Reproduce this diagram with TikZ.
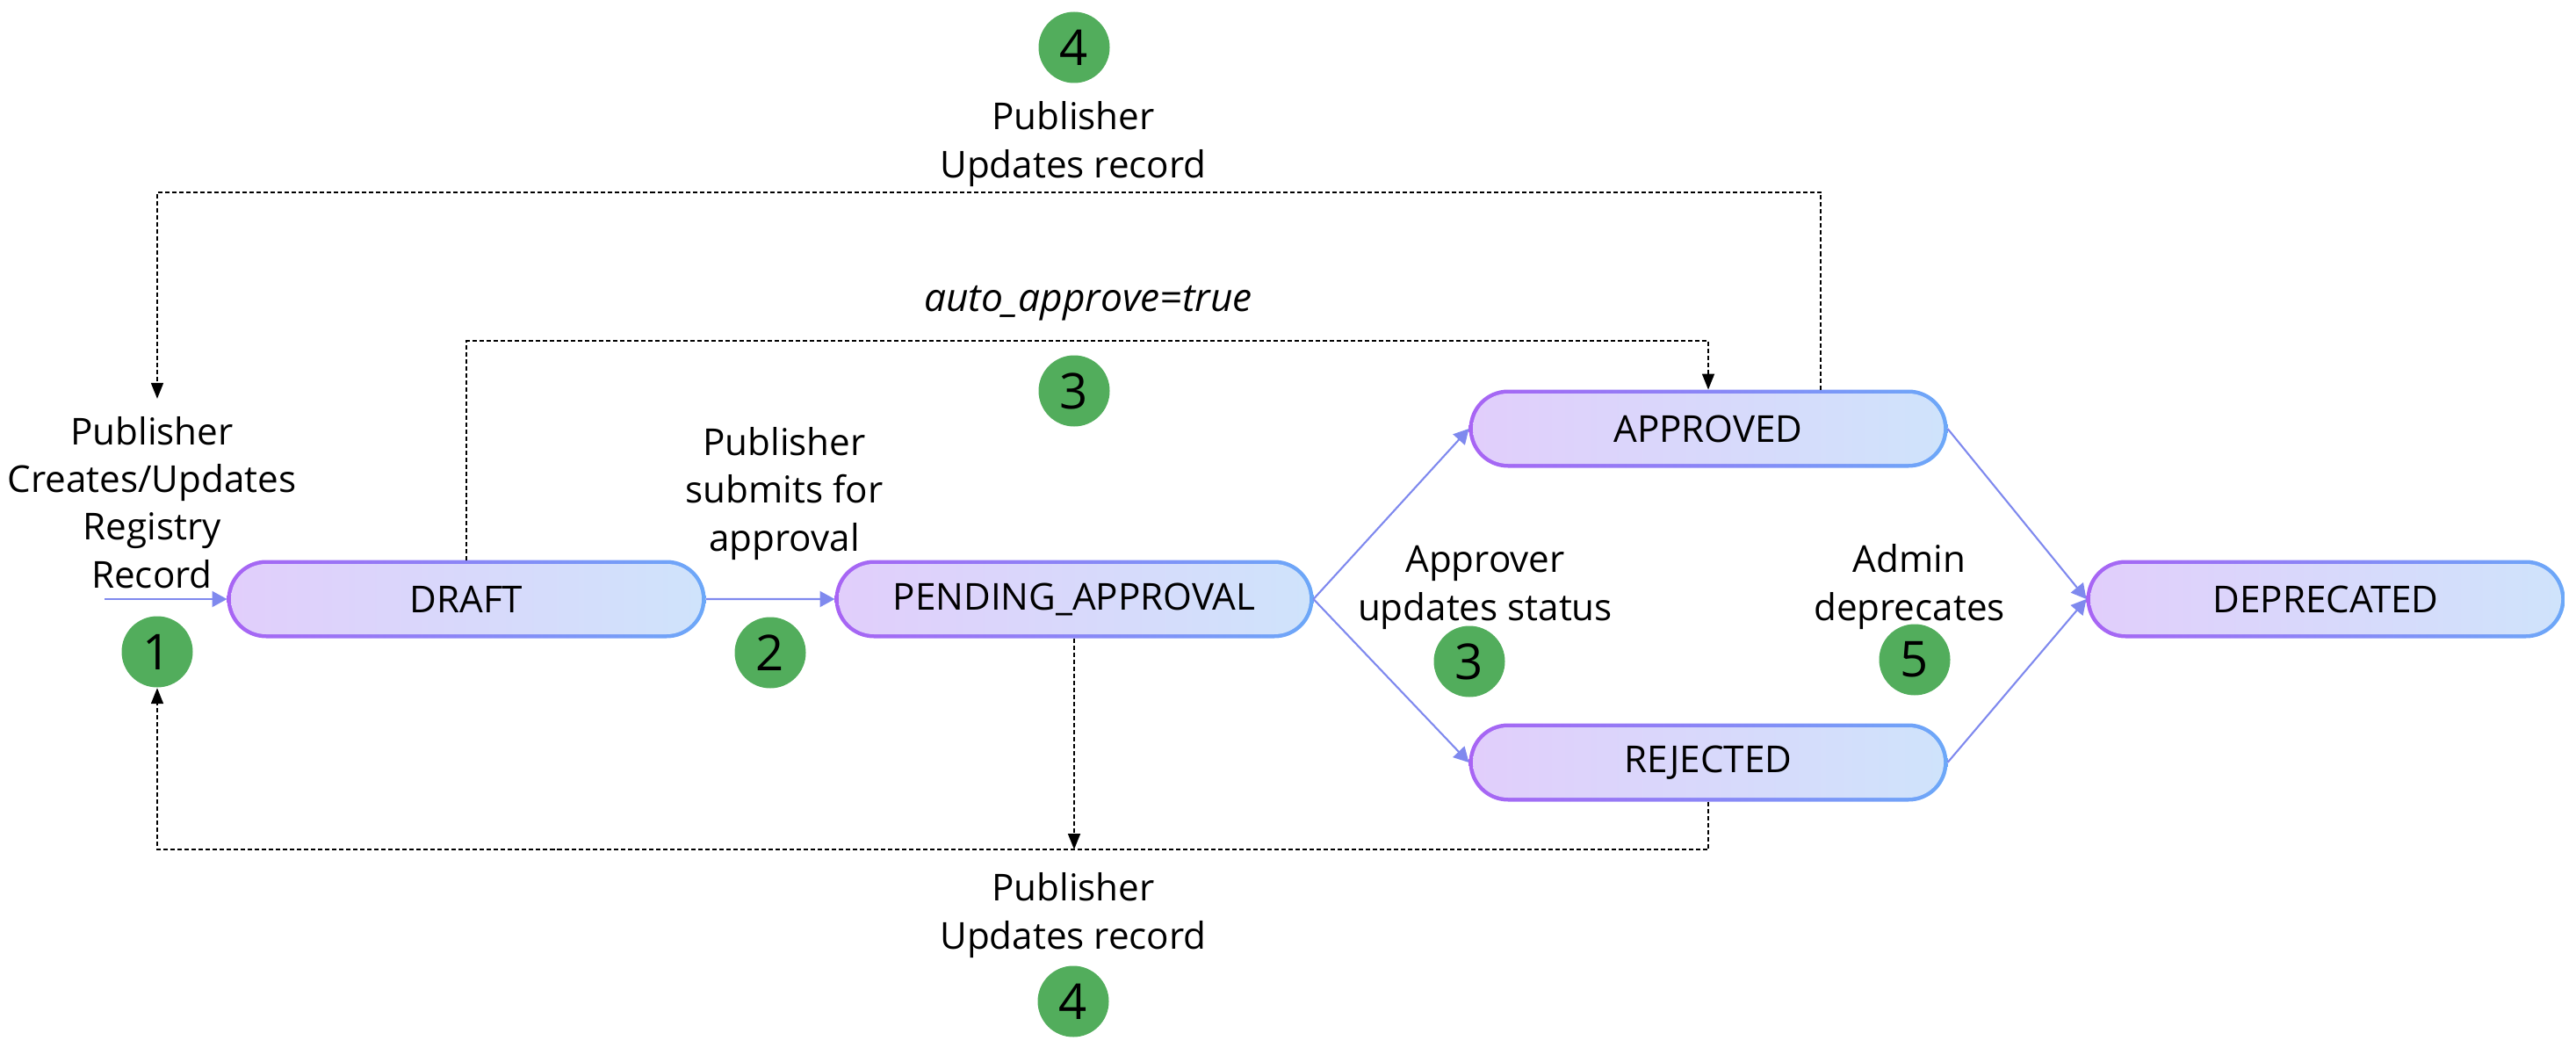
\documentclass[tikz,border=0pt]{standalone}
\usepackage{fontspec}
\setmainfont{Open Sans}
\usetikzlibrary{arrows.meta,shapes.misc}
\definecolor{edgeL}{HTML}{A864F4}
\definecolor{edgeR}{HTML}{6CA8F8}
\definecolor{fillL}{HTML}{E1CEFB}
\definecolor{fillR}{HTML}{CFE3FB}
\definecolor{flowc}{HTML}{7F89EE}
\definecolor{badgeg}{HTML}{52AD5C}
\begin{document}
\begin{tikzpicture}[
  % the record states: gradient rim, lighter gradient inside
  state/.style={rounded rectangle, minimum width=5.45cm, minimum height=0.89cm,
    inner sep=0pt, outer sep=0pt, font=\fontsize{12}{14}\selectfont,
    path picture={
      \shade[left color=edgeL, right color=edgeR]
        (path picture bounding box.south west) rectangle (path picture bounding box.north east);
      \shade[left color=fillL, right color=fillR, rounded corners=0.40cm]
        ([shift={(0.045,0.045)}]path picture bounding box.south west) rectangle
        ([shift={(-0.045,-0.045)}]path picture bounding box.north east);
    }},
  % numbered steps
  badge/.style={circle, fill=badgeg, minimum size=0.81cm, inner sep=0pt,
    font=\fontsize{16}{16}\selectfont},
  note/.style={align=center, inner sep=0pt, font=\fontsize{12}{15.4}\selectfont},
  flow/.style={draw=flowc, line width=0.6pt, -{Triangle[length=0.17cm,width=0.18cm]}},
  back/.style={line width=0.5pt, line cap=butt, dash pattern=on 0.05cm off 0.03cm,
    -{Triangle[length=0.18cm,width=0.14cm]}},
]
  \useasboundingbox (0,0) rectangle (29.33,-12.01);

  % the states
  \node[state] (draft)      at (5.31,-6.82)  {DRAFT};
  \node[state] (pending)    at (12.23,-6.82) {PENDING\_APPROVAL};
  \node[state] (approved)   at (19.45,-4.88) {APPROVED};
  \node[state] (rejected)   at (19.45,-8.68) {REJECTED};
  \node[state] (deprecated) at (26.48,-6.82) {DEPRECATED};

  % what happens on each transition
  \node[note] (create)  at (1.73,-5.72)   {Publisher\\Creates/Updates\\Registry\\Record};
  \node[note] (submit)  at (8.93,-5.62)   {Publisher\\submits for\\approval};
  \node[note] (decide)  at (16.91,-6.69)  {Approver\\updates status};
  \node[note] (retire)  at (21.74,-6.68)  {Admin\\deprecates};
  \node[note] (edittop) at (12.22,-1.64)  {Publisher\\Updates record};
  \node[note] (editbot) at (12.22,-10.42) {Publisher\\Updates record};
  \node[note, font=\fontsize{12.6}{15.4}\selectfont\itshape] (auto) at (12.39,-3.45) {auto\_approve=true};

  % step numbers
  \node[badge] (s1)  at (1.79,-7.42)  {1};
  \node[badge] (s2)  at (8.77,-7.43)  {2};
  \node[badge] (s3a) at (12.23,-4.45) {3};
  \node[badge] (s3b) at (16.73,-7.53) {3};
  \node[badge] (s4a) at (12.23,-0.54) {4};
  \node[badge] (s4b) at (12.22,-11.40) {4};
  \node[badge] (s5)  at (21.80,-7.51) {5};

  % levels of the dashed return paths
  \coordinate (entry) at (1.19,-6.82);
  \coordinate (autoY) at (0,-3.88);
  \coordinate (topY)  at (0,-2.19);
  \coordinate (botY)  at (0,-9.67);

  % the main flow
  \draw[flow] (entry) -- (draft);
  \draw[flow] (draft) -- (pending);
  \draw[flow] (pending.east) -- (approved.west);
  \draw[flow] (pending.east) -- (rejected.west);
  \draw[flow] (approved.east) -- (deprecated.west);
  \draw[flow] (rejected.east) -- (deprecated.west);

  % shortcuts and updates
  \draw[back] (draft.north) |- (autoY -| approved.north) -- (approved.north);
  \draw[back, shorten >=0.2cm] ([xshift=1.28cm]approved.north) |- (topY -| s1) -- (create.north -| s1);
  \draw[back] (rejected.south) |- (botY -| s1) -- (s1.south);
  \draw[back] (pending.south) -- (pending.south |- botY);

\end{tikzpicture}
\end{document}
